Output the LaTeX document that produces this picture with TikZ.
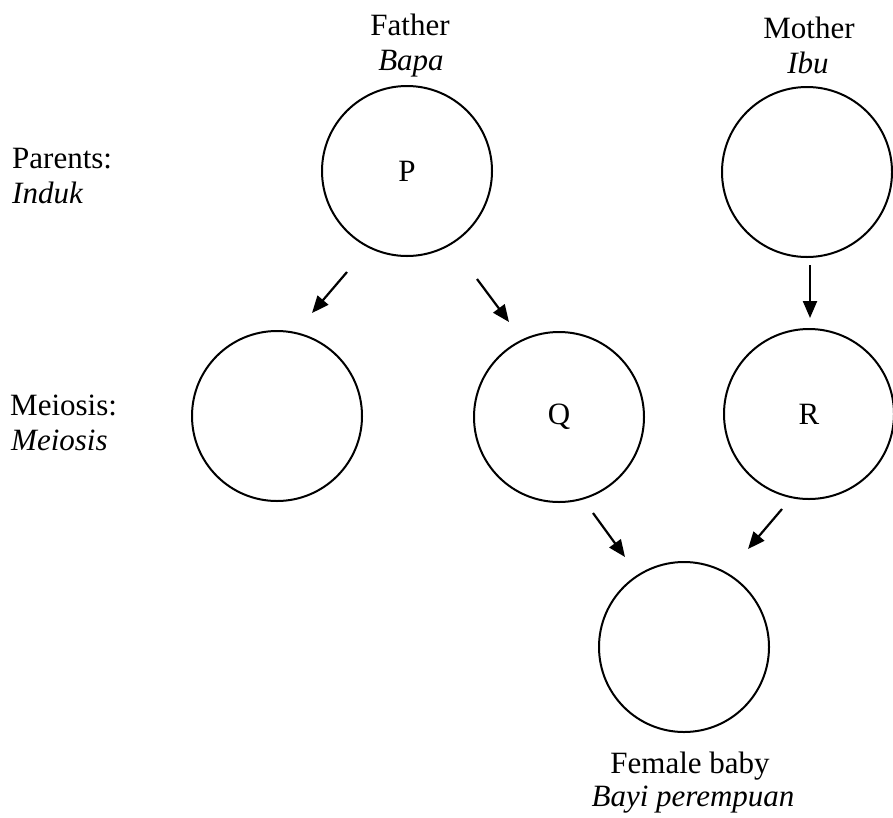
\documentclass[tikz,border=0pt]{standalone}
\usepackage{fontspec}
\setmainfont{Liberation Serif}
\usetikzlibrary{arrows.meta}
\begin{document}
\begin{tikzpicture}[x=1pt,y=-1pt,
  cell/.style={draw,circle,line width=2pt,minimum size=170pt,inner sep=0pt,font=\fontsize{31}{36}\selectfont},
  lbl/.style={font=\fontsize{31}{36}\selectfont,inner sep=0pt},
  arr/.style={line width=2.2pt,-{Triangle[length=17pt,width=14pt]}}]
\useasboundingbox (0,0) rectangle (893,817);
% circles
\node[cell] (P) at (407,171) {P};
\node[cell] (M) at (807,172) {};
\node[cell] (L) at (277,416) {};
\node[cell] (Q) at (559,417) {Q};
\node[cell] (R) at (809,414) {R};
\node[cell] (B) at (684,647) {};
% labels
\node[lbl,anchor=base] (father) at (410,35) {Father};
\node[lbl,anchor=base] (bapa) at (411,70) {\textit{Bapa}};
\node[lbl,anchor=base] (mother) at (809,38) {Mother};
\node[lbl,anchor=base] (ibu) at (808,73) {\textit{Ibu}};
\node[lbl,anchor=base west] (parents) at (12,168) {Parents:};
\node[lbl,anchor=base west] (induk) at (12,203) {\textit{Induk}};
\node[lbl,anchor=base west] (meiosisA) at (10,415) {Meiosis:};
\node[lbl,anchor=base west] (meiosisB) at (11,450) {\textit{Meiosis}};
\node[lbl,anchor=base] (female) at (690,773) {Female baby};
\node[lbl,anchor=base] (bayi) at (693,806) {\textit{Bayi perempuan}};
% arrow end points
\coordinate (a1s) at (347,272); \coordinate (a1e) at (312,313);
\coordinate (a2s) at (477,279); \coordinate (a2e) at (509,322);
\coordinate (a3s) at (810,265); \coordinate (a3e) at (810,318);
\coordinate (a4s) at (593,513); \coordinate (a4e) at (625,557);
\coordinate (a5s) at (782,509); \coordinate (a5e) at (748,549);
\draw[arr] (a1s) -- (a1e);
\draw[arr] (a2s) -- (a2e);
\draw[arr] (a3s) -- (a3e);
\draw[arr] (a4s) -- (a4e);
\draw[arr] (a5s) -- (a5e);
\end{tikzpicture}
\end{document}
